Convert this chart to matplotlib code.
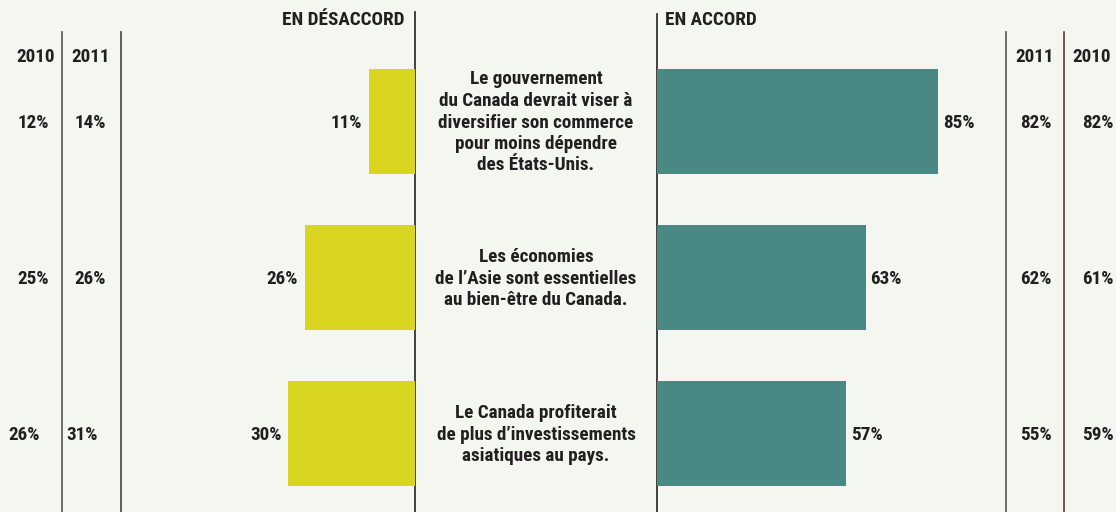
import matplotlib
matplotlib.use("Agg")
import matplotlib.pyplot as plt
from matplotlib import transforms, font_manager

# données
enonces = [
    "Le gouvernement\ndu Canada devrait viser à\ndiversifier son commerce\npour moins dépendre\ndes États-Unis.",
    "Les économies\nde l’Asie sont essentielles\nau bien-être du Canada.",
    "Le Canada profiterait\nde plus d’investissements\nasiatiques au pays.",
]
desaccord_2012 = [11, 26, 30]
desaccord_2011 = [14, 26, 31]
desaccord_2010 = [12, 25, 26]
accord_2012 = [85, 63, 57]
accord_2011 = [82, 62, 55]
accord_2010 = [82, 61, 59]

fond = "#f4f7f0"
jaune = "#d9d621"
sarcelle = "#4a8884"
texte = "#231f20"

# police étroite si possible
dispo = {f.name for f in font_manager.fontManager.ttflist}
for nom in ["Liberation Sans Narrow", "Roboto Condensed", "Open Sans Condensed", "Roboto", "Liberation Sans"]:
    if nom in dispo:
        break
plt.rcParams["font.family"] = [nom, "DejaVu Sans"]
plt.rcParams["font.weight"] = "bold"
fs = 13.8

fig = plt.figure(figsize=(11.16, 5.12), dpi=100, facecolor=fond)
W, H = 1116, 512

# axe de fond en pixels pour les lignes et les titres
ax_bg = fig.add_axes([0, 0, 1, 1])
ax_bg.set_xlim(0, W)
ax_bg.set_ylim(H, 0)
ax_bg.axis("off")
ax_bg.set_facecolor(fond)

# lignes verticales
for x, y0, c in [(62, 32, "#555555"), (121, 32, "#444444"), (415, 12, "#222222"),
                 (657, 14, "#222222"), (1006, 32, "#555555"), (1064, 32, "#6b3a3a")]:
    ax_bg.plot([x, x], [y0, H], color=c, lw=1.2)

# axes des barres (échelles différentes à gauche et à droite)
y_top, y_bot = -121.5 / 156, (H - 121.5) / 156
rangs = list(range(len(enonces)))

axL = fig.add_axes([120 / W, 0, (415 - 120) / W, 1])
axL.barh(rangs, desaccord_2012, height=105 / 156, color=jaune)
axL.set_xlim(295 / 4.22, 0)
axL.set_ylim(y_bot, y_top)
axL.axis("off")

axR = fig.add_axes([657 / W, 0, (1006 - 657) / W, 1])
axR.barh(rangs, accord_2012, height=105 / 156, color=sarcelle)
axR.set_xlim(0, 349 / 3.31)
axR.set_ylim(y_bot, y_top)
axR.axis("off")

for i in rangs:
    axL.annotate(f"{desaccord_2012[i]}%", (desaccord_2012[i], i), xytext=(-7, -1),
                 textcoords="offset pixels", ha="right", va="center", fontsize=fs, color=texte)
    axR.annotate(f"{accord_2012[i]}%", (accord_2012[i], i), xytext=(5, -1),
                 textcoords="offset pixels", ha="left", va="center", fontsize=fs, color=texte)

# colonnes latérales
tr = transforms.blended_transform_factory(ax_bg.transData, axL.transData)
dec = transforms.offset_copy(tr, fig=fig, x=0, y=-1, units="dots")
x_2010_g = [33, 33, 24]
x_2011_g = [90, 90, 82]
for i in rangs:
    ax_bg.text(x_2010_g[i], i, f"{desaccord_2010[i]}%", transform=dec, ha="center", va="center",
               fontsize=fs, color=texte)
    ax_bg.text(x_2011_g[i], i, f"{desaccord_2011[i]}%", transform=dec, ha="center", va="center",
               fontsize=fs, color=texte)
    ax_bg.text(1036, i, f"{accord_2011[i]}%", transform=dec, ha="center", va="center",
               fontsize=fs, color=texte)
    ax_bg.text(1098, i, f"{accord_2010[i]}%", transform=dec, ha="center", va="center",
               fontsize=fs, color=texte)
    ax_bg.text(536, i, enonces[i], transform=dec, ha="center", va="center",
               fontsize=fs, color=texte, linespacing=1.25)

# en-têtes
ax_bg.text(405, 20, "EN DÉSACCORD", ha="right", va="center", fontsize=fs, color=texte)
ax_bg.text(665, 20, "EN ACCORD", ha="left", va="center", fontsize=fs, color=texte)
for x, a in [(36, "2010"), (91, "2011"), (1035, "2011"), (1092, "2010")]:
    ax_bg.text(x, 57, a, ha="center", va="center", fontsize=fs, color=texte)

fig.savefig("out.png", dpi=100, facecolor=fond)
